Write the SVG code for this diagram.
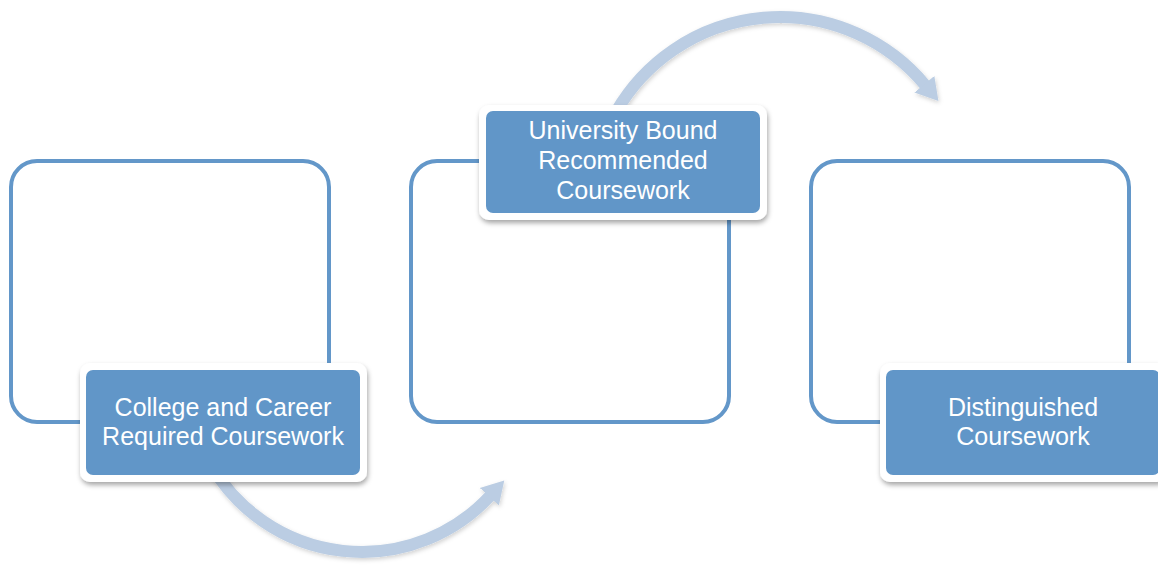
<svg xmlns="http://www.w3.org/2000/svg" width="1158" height="567" viewBox="0 0 1158 567">
  <style>
    .frame { fill: #ffffff; stroke: #6397c9; stroke-width: 4; }
    .lbl-outer { fill: #ffffff; }
    .lbl-inner { fill: #6196c8; }
    .lbl-text { fill: #ffffff; font-family: "Liberation Sans", Arial, sans-serif; font-size: 25px; text-anchor: middle; }
    .arc { fill: none; stroke: #bbcde3; stroke-width: 12; }
  </style>
  <defs>
    <filter id="shadow" x="-10%" y="-10%" width="125%" height="130%">
      <feDropShadow dx="1" dy="3" stdDeviation="2.5" flood-color="#000000" flood-opacity="0.35"/>
    </filter>
    <filter id="arcshadow" x="-10%" y="-10%" width="125%" height="130%">
      <feDropShadow dx="1" dy="2" stdDeviation="2" flood-color="#000000" flood-opacity="0.18"/>
    </filter>
    <marker id="head" markerUnits="userSpaceOnUse" markerWidth="30" markerHeight="34" refX="1" refY="15" orient="auto">
      <path d="M0,2 L22,15 L0,28 Z" fill="#bbcde3"/>
    </marker>
  </defs>

  <g id="connectors" filter="url(#arcshadow)">
    <path class="arc" d="M 211 465 A 174.5 174.5 0 0 0 490 496" marker-end="url(#head)"/>
    <path class="arc" d="M 616 112 A 189 189 0 0 1 925 85" marker-end="url(#head)"/>
  </g>

  <g id="node-college">
    <rect class="frame" x="11" y="161" width="318" height="261" rx="26"/>
    <g filter="url(#shadow)">
      <rect class="lbl-outer" x="80" y="363" width="287" height="119" rx="10"/>
    </g>
    <rect class="lbl-inner" x="86" y="370" width="274" height="105" rx="7"/>
    <text class="lbl-text" x="223" y="416">College and Career</text>
    <text class="lbl-text" x="223" y="445">Required Coursework</text>
  </g>

  <g id="node-university">
    <rect class="frame" x="411" y="161" width="318" height="261" rx="26"/>
    <g filter="url(#shadow)">
      <rect class="lbl-outer" x="479" y="105" width="288" height="115" rx="10"/>
    </g>
    <rect class="lbl-inner" x="486" y="111" width="274" height="102" rx="7"/>
    <text class="lbl-text" x="623" y="139">University Bound</text>
    <text class="lbl-text" x="623" y="169">Recommended</text>
    <text class="lbl-text" x="623" y="199">Coursework</text>
  </g>

  <g id="node-distinguished">
    <rect class="frame" x="811" y="161" width="318" height="261" rx="26"/>
    <g filter="url(#shadow)">
      <rect class="lbl-outer" x="880" y="363" width="287" height="119" rx="10"/>
    </g>
    <rect class="lbl-inner" x="886" y="370" width="274" height="105" rx="7"/>
    <text class="lbl-text" x="1023" y="416">Distinguished</text>
    <text class="lbl-text" x="1023" y="445">Coursework</text>
  </g>
</svg>
